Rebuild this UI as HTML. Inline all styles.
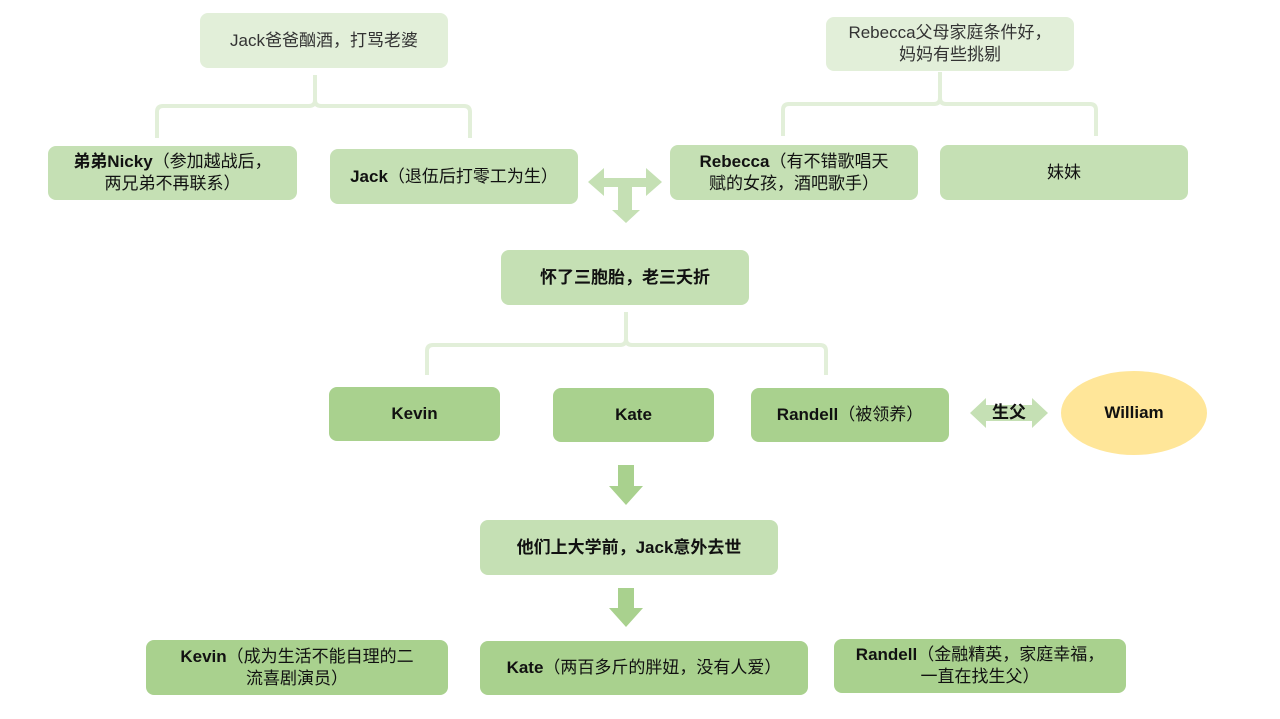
<!DOCTYPE html>
<html><head><meta charset="utf-8"><style>
body{margin:0;width:1280px;height:719px;background:#fff;position:relative;overflow:hidden;font-family:"Liberation Sans","Noto Sans CJK SC",sans-serif;}
.b{position:absolute;border-radius:8px;display:flex;align-items:center;justify-content:center;text-align:center;font-size:17px;line-height:22px;color:#111;box-sizing:border-box;}
.l{background:#e2efd9;color:#333;}
.m{background:#c5e0b4;}
.d{background:#a9d18e;}
b{font-weight:bold;}
</style></head><body>
<svg width="1280" height="719" style="position:absolute;left:0;top:0">
<g fill="none" stroke="#e2efd9" stroke-width="4">
<path d="M157 138 V112 Q157 106 163 106 H309 Q315 106 315 100 V75 M315 100 Q315 106 321 106 H464 Q470 106 470 112 V138"/>
<path d="M783 136 V110 Q783 104 789 104 H934 Q940 104 940 98 V72 M940 98 Q940 104 946 104 H1090 Q1096 104 1096 110 V136"/>
<path d="M427 375 V351 Q427 345 433 345 H620 Q626 345 626 339 V312 M626 339 Q626 345 632 345 H820 Q826 345 826 351 V375" stroke="#e2efd9"/>
</g>
<g fill="#c5e0b4">
<polygon points="588,182 604,168 604,178 646,178 646,168 662,182 646,196 646,187 632,187 632,210 640,210 626,223 612,210 618,210 618,187 604,187 604,196"/>
<polygon points="970,413 986,398 986,405 1032,405 1032,398 1048,413 1032,428 1032,421 986,421 986,428"/>
</g>
<g fill="#a9d18e">
<polygon points="618,465 634,465 634,486 643,486 626,505 609,486 618,486"/>
<polygon points="618,588 634,588 634,608 643,608 626,627 609,608 618,608"/>
</g>
<ellipse cx="1134" cy="413" rx="73" ry="42" fill="#ffe699"/>
</svg>
<div class="b l" style="left:200px;top:13px;width:248px;height:55px;">Jack爸爸酗酒，打骂老婆</div>
<div class="b l" style="left:826px;top:17px;width:248px;height:54px;">Rebecca父母家庭条件好，<br>妈妈有些挑剔</div>
<div class="b m" style="left:48px;top:146px;width:249px;height:54px;"><span><b>弟弟Nicky</b>（参加越战后，<br>两兄弟不再联系）</span></div>
<div class="b m" style="left:330px;top:149px;width:248px;height:55px;"><span><b>Jack</b>（退伍后打零工为生）</span></div>
<div class="b m" style="left:670px;top:145px;width:248px;height:55px;"><span><b>Rebecca</b>（有不错歌唱天<br>赋的女孩，酒吧歌手）</span></div>
<div class="b m" style="left:940px;top:145px;width:248px;height:55px;">妹妹</div>
<div class="b m" style="left:501px;top:250px;width:248px;height:55px;"><b>怀了三胞胎，老三夭折</b></div>
<div class="b d" style="left:329px;top:387px;width:171px;height:54px;"><b>Kevin</b></div>
<div class="b d" style="left:553px;top:388px;width:161px;height:54px;"><b>Kate</b></div>
<div class="b d" style="left:751px;top:388px;width:198px;height:54px;"><span><b>Randell</b>（被领养）</span></div>
<div class="b" style="left:970px;top:402px;width:78px;height:22px;"><b>生父</b></div>
<div class="b" style="left:1061px;top:371px;width:146px;height:84px;"><b>William</b></div>
<div class="b m" style="left:480px;top:520px;width:298px;height:55px;"><b>他们上大学前，Jack意外去世</b></div>
<div class="b d" style="left:146px;top:640px;width:302px;height:55px;"><span><b>Kevin</b>（成为生活不能自理的二<br>流喜剧演员）</span></div>
<div class="b d" style="left:480px;top:641px;width:328px;height:54px;"><span><b>Kate</b>（两百多斤的胖妞，没有人爱）</span></div>
<div class="b d" style="left:834px;top:639px;width:292px;height:54px;"><span><b>Randell</b>（金融精英，家庭幸福，<br>一直在找生父）</span></div>
</body></html>
